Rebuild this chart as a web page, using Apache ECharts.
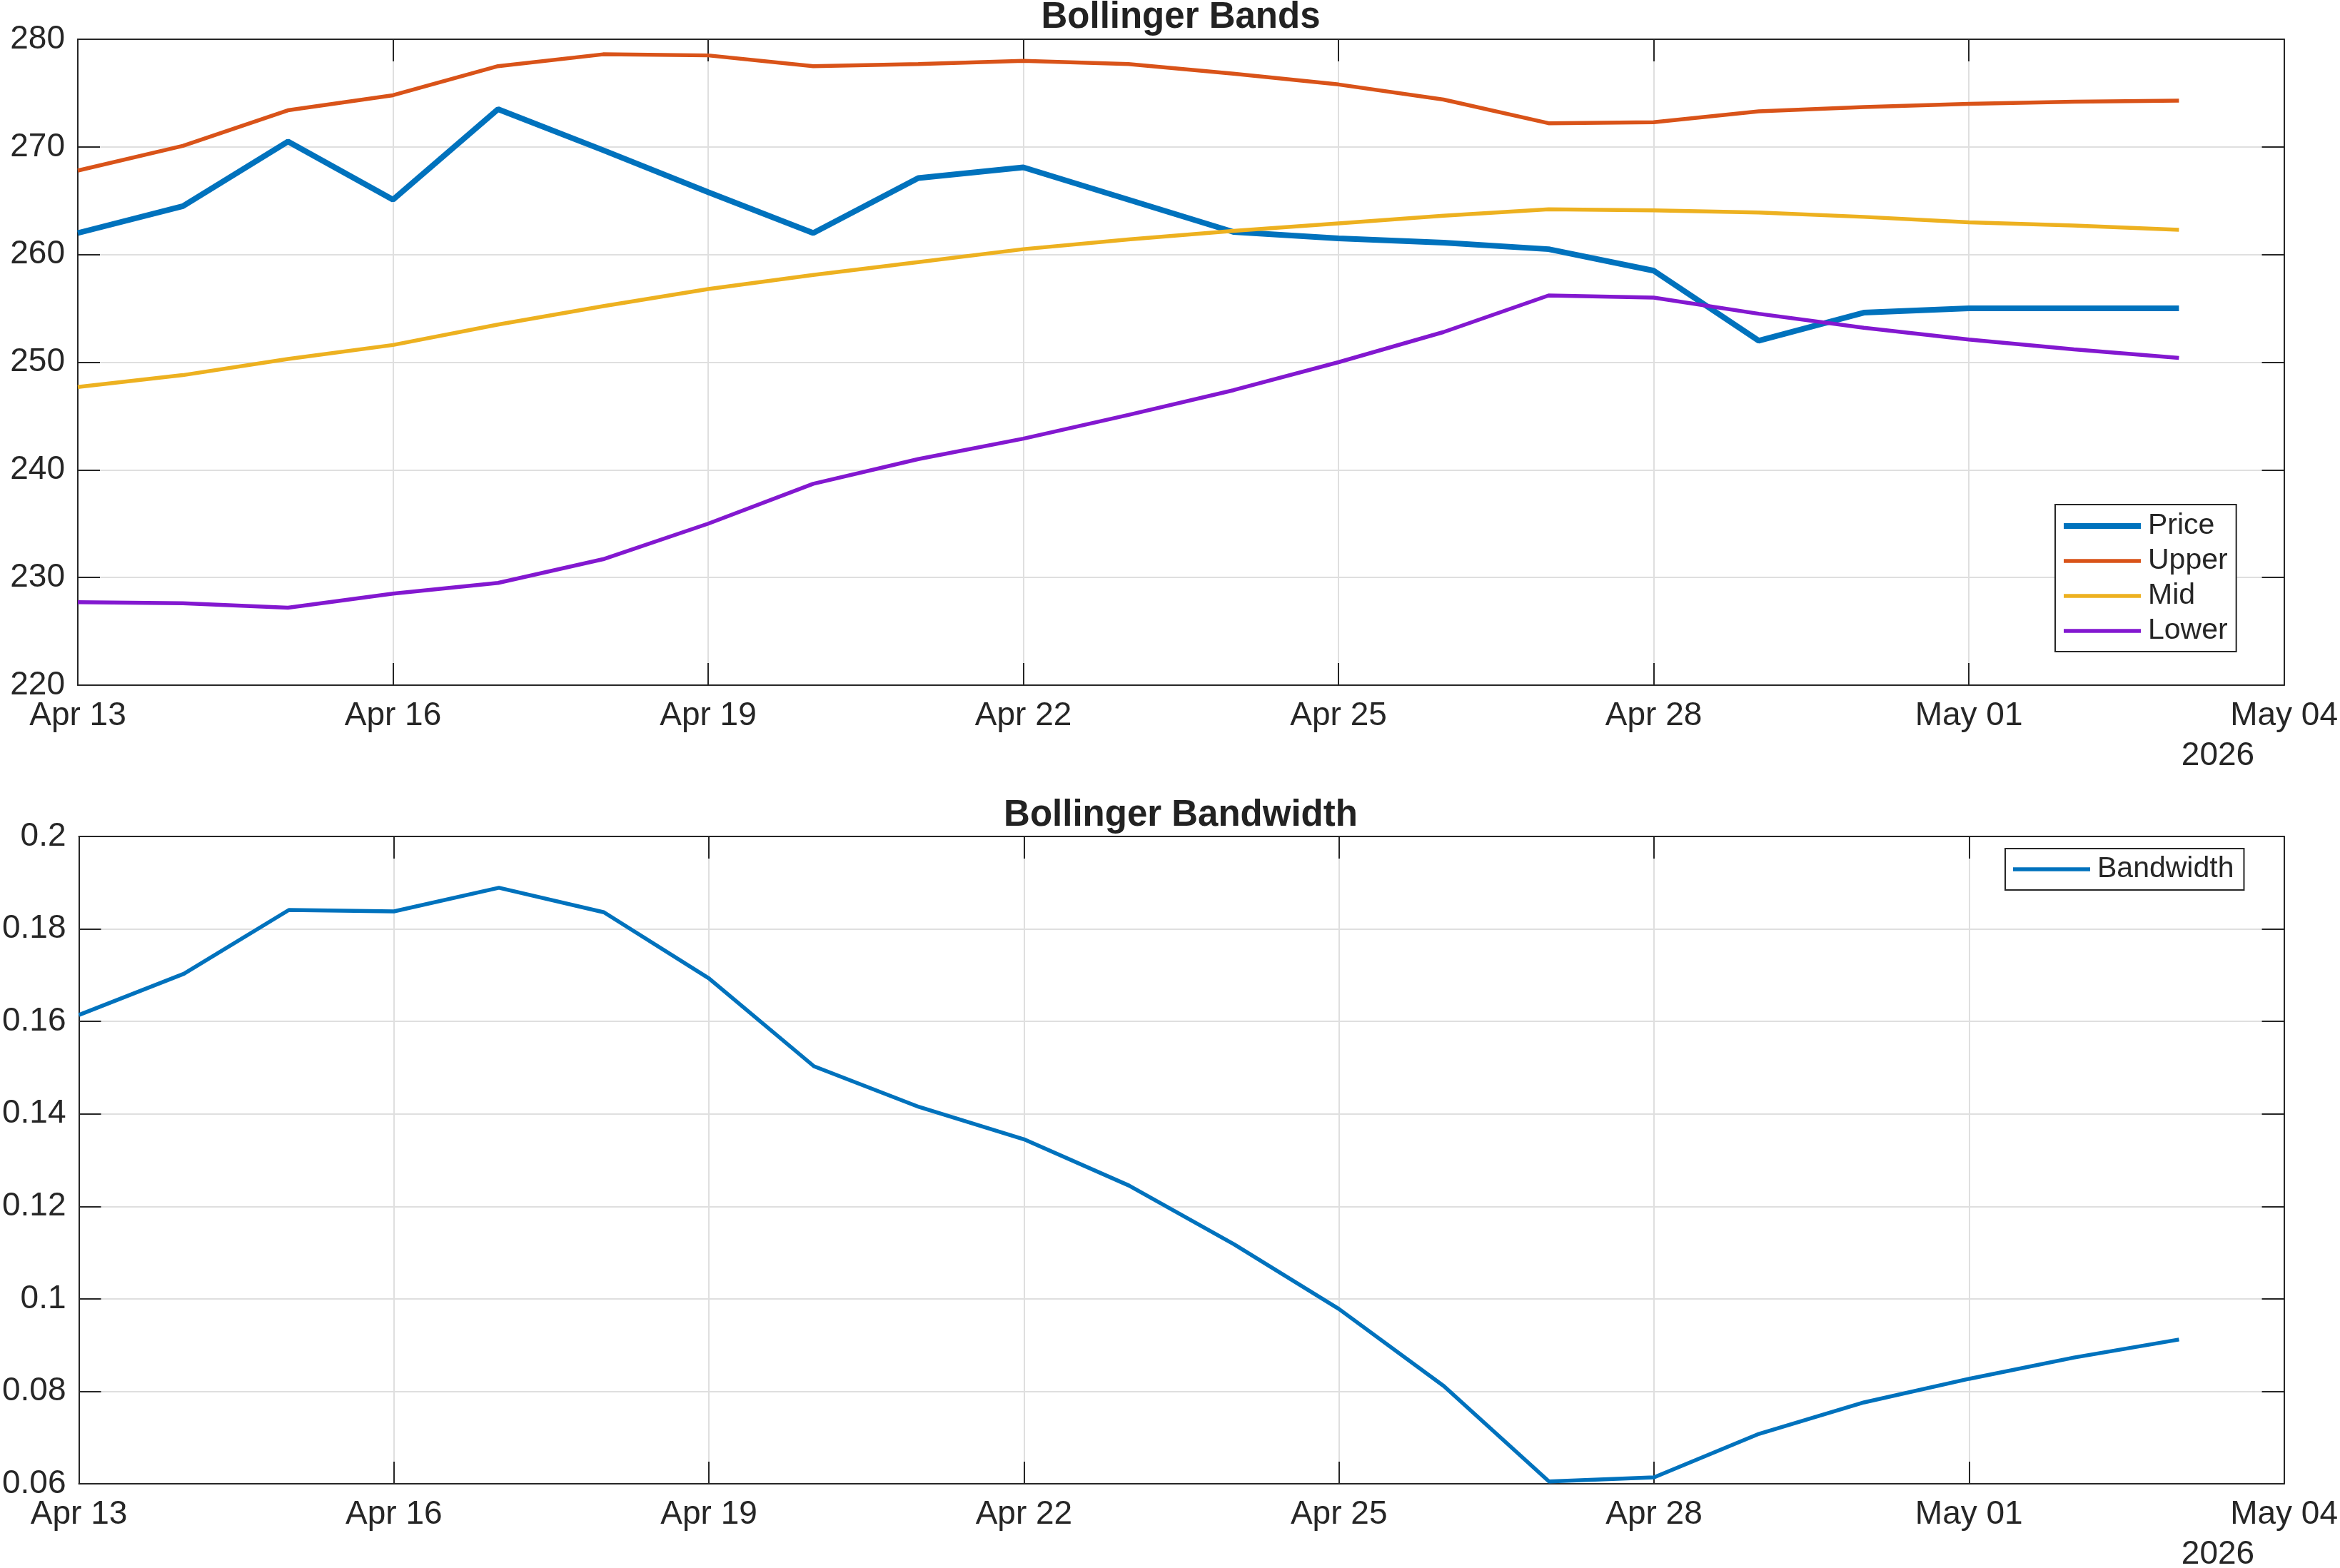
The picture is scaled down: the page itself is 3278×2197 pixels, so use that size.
<!DOCTYPE html>
<html>
<head>
<meta charset="utf-8">
<script src="https://cdn.jsdelivr.net/npm/echarts@6/dist/echarts.min.js"></script>
<style>
    html, body { margin: 0; padding: 0; background: #fff; }
    #chart { width: 3278px; height: 2197px; }
</style>
</head>
<body>
<div id="chart"></div>
<script>
// data
const dates = ['2026-04-13', '2026-04-14', '2026-04-15', '2026-04-16', '2026-04-17', '2026-04-18', '2026-04-19',
    '2026-04-20', '2026-04-21', '2026-04-22', '2026-04-23', '2026-04-24', '2026-04-25', '2026-04-26',
    '2026-04-27', '2026-04-28', '2026-04-29', '2026-04-30', '2026-05-01', '2026-05-02', '2026-05-03'];
const price = [262.0, 264.5, 270.5, 265.1, 273.5, 269.7, 265.8, 262.0, 267.1, 268.1, 265.1,
    262.1, 261.5, 261.1, 260.5, 258.5, 252.0, 254.6, 255.0, 255.0, 255.0];
const upper = [267.8, 270.1, 273.4, 274.8, 277.5, 278.6, 278.5, 277.5, 277.7, 278.0, 277.7,
    276.8, 275.8, 274.4, 272.2, 272.3, 273.3, 273.7, 274.0, 274.2, 274.3];
const mid = [247.7, 248.8, 250.3, 251.6, 253.5, 255.2, 256.8, 258.1, 259.3, 260.5, 261.4,
    262.2, 262.9, 263.6, 264.2, 264.1, 263.9, 263.5, 263.0, 262.7, 262.3];
const lower = [227.7, 227.6, 227.2, 228.5, 229.5, 231.7, 235.0, 238.7, 241.0, 242.9, 245.1,
    247.4, 250.0, 252.8, 256.2, 256.0, 254.5, 253.2, 252.1, 251.2, 250.4];
const bandwidth = [0.1614, 0.1703, 0.1841, 0.1838, 0.1889, 0.1836, 0.1693, 0.1503, 0.1415, 0.1345, 0.1245,
    0.1118, 0.0978, 0.0811, 0.0605, 0.0614, 0.0708, 0.0776, 0.0827, 0.0873, 0.0912];
const xTicks = { min: 0, max: 21, interval: 3 };   // days from Apr 13 to May 04
const yearLabel = '2026';

const DAY = 86400000;
const t0 = Date.parse(dates[0]);
const months = ['Jan', 'Feb', 'Mar', 'Apr', 'May', 'Jun', 'Jul', 'Aug', 'Sep', 'Oct', 'Nov', 'Dec'];
const FONT = '"Liberation Sans", Arial, Helvetica, sans-serif';
const INK = '#262626';

function toPoints(values) {
    return values.map(function(v, i) {
        return [(Date.parse(dates[i]) - t0) / DAY, v];
    });
}
function dayLabel(v) {
    let d = new Date(t0 + v * DAY);
    let day = d.getUTCDate();
    return months[d.getUTCMonth()] + ' ' + (day < 10 ? '0' + day : day);
}

// plot boxes (px)
const plotLeft = 109, plotRight = 78;
const topBox = { top: 55, height: 905 };
const botBox = { top: 1172, height: 907 };

function xAxisFor(gridIndex, main) {
    return {
        type: 'value', gridIndex: gridIndex, position: main ? 'bottom' : 'top',
        min: xTicks.min, max: xTicks.max, interval: xTicks.interval,
        axisLine: { show: true, onZero: false, lineStyle: { color: INK, width: 2 } },
        axisTick: { show: true, inside: true, length: 31, lineStyle: { color: INK, width: 2 } },
        axisLabel: {
            show: main, margin: 20, fontSize: 46, color: INK, fontFamily: FONT,
            formatter: dayLabel
        },
        splitLine: { show: main, lineStyle: { color: '#dfdfdf', width: 2 } }
    };
}
function yAxisFor(gridIndex, main, min, max, interval) {
    return {
        type: 'value', gridIndex: gridIndex, position: main ? 'left' : 'right',
        min: min, max: max, interval: interval,
        axisLine: { show: true, onZero: false, lineStyle: { color: INK, width: 2 } },
        axisTick: { show: true, inside: true, length: 31, lineStyle: { color: INK, width: 2 } },
        axisLabel: { show: main, margin: 18, fontSize: 46, color: INK, fontFamily: FONT },
        splitLine: { show: main, lineStyle: { color: '#dfdfdf', width: 2 } }
    };
}
function lineSeries(name, values, color, width, xi, yi) {
    return {
        name: name, type: 'line', xAxisIndex: xi, yAxisIndex: yi,
        data: toPoints(values), symbol: 'none', silent: true,
        lineStyle: { color: color, width: width }, itemStyle: { color: color },
        z: 3
    };
}
// legend swatch: a flat bar as thick as the series line
function swatch(name, thick) {
    return { name: name, icon: 'path://M0,0H108V' + thick + 'H0Z' };
}
function legendBox(items, left, top, padding) {
    return {
        data: items, orient: 'vertical', left: left, top: top, padding: padding,
        itemWidth: 108, itemHeight: 14, itemGap: 5, symbolKeepAspect: true,
        itemStyle: { borderWidth: 0 },
        backgroundColor: '#fff', borderColor: INK, borderWidth: 2, borderRadius: 0,
        selectedMode: false,
        textStyle: { fontSize: 41, lineHeight: 44, color: INK, fontFamily: FONT, padding: [0, 0, 0, 5] }
    };
}

let chart = echarts.init(document.getElementById('chart'), null, { renderer: 'canvas' });
let option = {
    animation: false,
    backgroundColor: '#fff',
    grid: [
        { left: plotLeft, right: plotRight, top: topBox.top, height: topBox.height },
        { left: plotLeft, right: plotRight, top: botBox.top, height: botBox.height }
    ],
    xAxis: [xAxisFor(0, true), xAxisFor(0, false), xAxisFor(1, true), xAxisFor(1, false)],
    yAxis: [
        yAxisFor(0, true, 220, 280, 10), yAxisFor(0, false, 220, 280, 10),
        yAxisFor(1, true, 0.06, 0.2, 0.02), yAxisFor(1, false, 0.06, 0.2, 0.02)
    ],
    legend: [
        legendBox([swatch('Price', 8), swatch('Upper', 5.5), swatch('Mid', 5.5), swatch('Lower', 5.5)],
            2879, 707, [8, 12, 7, 12]),
        legendBox([swatch('Bandwidth', 5.5)], 2809, 1189, [7, 14, 7, 11])
    ],
    series: [
        lineSeries('Price', price, '#0072BD', 8, 0, 0),
        lineSeries('Upper', upper, '#D95319', 5.5, 0, 0),
        lineSeries('Mid', mid, '#EDB120', 5.5, 0, 0),
        lineSeries('Lower', lower, '#8318D0', 5.5, 0, 0),
        lineSeries('Bandwidth', bandwidth, '#0072BD', 5.5, 2, 2)
    ],
    graphic: [
        {
            type: 'text', x: 1654, y: 25, silent: true,
            style: { text: 'Bollinger Bands', align: 'center', verticalAlign: 'middle',
                font: 'bold 51px ' + FONT, fill: '#222' }
        },
        {
            type: 'text', x: 1654, y: 1143, silent: true,
            style: { text: 'Bollinger Bandwidth', align: 'center', verticalAlign: 'middle',
                font: 'bold 51px ' + FONT, fill: '#222' }
        },
        {
            type: 'text', x: 3107, y: topBox.top + topBox.height + 99, silent: true,
            style: { text: yearLabel, align: 'center', verticalAlign: 'middle',
                font: '46px ' + FONT, fill: INK }
        },
        {
            type: 'text', x: 3107, y: botBox.top + botBox.height + 99, silent: true,
            style: { text: yearLabel, align: 'center', verticalAlign: 'middle',
                font: '46px ' + FONT, fill: INK }
        }
    ]
};
chart.setOption(option);
</script>
</body>
</html>
